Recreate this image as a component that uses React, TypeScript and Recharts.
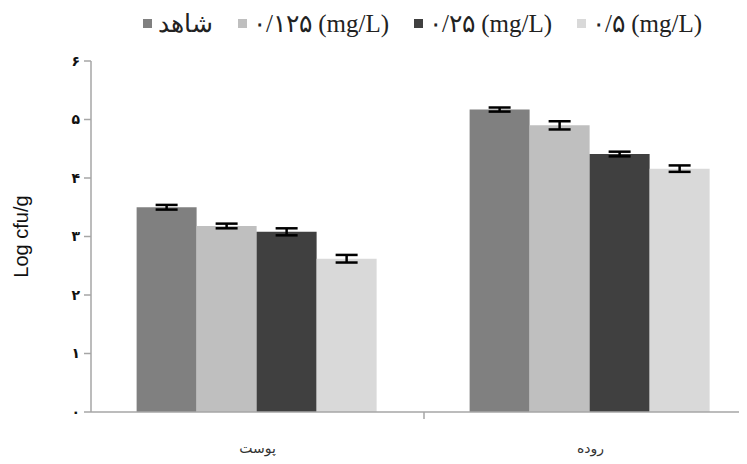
import React from "react";
import { BarChart, Bar, XAxis, YAxis, Legend, ErrorBar } from "recharts";

const categories = ["پوست", "روده"];
const seriesNames = ["شاهد", "۰/۱۲۵ (mg/L)", "۰/۲۵ (mg/L)", "۰/۵ (mg/L)"];
const seriesColors = ["#808080", "#bfbfbf", "#404040", "#d9d9d9"];

const control = [3.5, 5.17];
const dose125 = [3.18, 4.9];
const dose25 = [3.08, 4.41];
const dose5 = [2.62, 4.16];

const controlErr = [0.04, 0.035];
const dose125Err = [0.04, 0.07];
const dose25Err = [0.06, 0.04];
const dose5Err = [0.065, 0.055];

const yTicks = [0, 1, 2, 3, 4, 5, 6];
const persianDigits = ["۰", "۱", "۲", "۳", "۴", "۵", "۶", "۷", "۸", "۹"];

const values = [control, dose125, dose25, dose5];
const errors = [controlErr, dose125Err, dose25Err, dose5Err];
const keys = ["s0", "s1", "s2", "s3"];

const data = categories.map((name, i) => {
  const row: any = { name, pos: i + 0.5 };
  keys.forEach((k, j) => {
    row[k] = values[j][i];
    row[k + "Err"] = errors[j][i];
  });
  return row;
});

const toPersian = (v: number) =>
  String(v)
    .split("")
    .map((c) => (c >= "0" && c <= "9" ? persianDigits[Number(c)] : c))
    .join("");

const AXIS = "#a6a6a6";

function BottomTick(props: any) {
  const { x, y, payload } = props;
  const v = payload.value;
  if (v === Math.floor(v)) {
    // boundary tick between categories
    return <line x1={x} x2={x} y1={y} y2={y + 7} stroke={AXIS} strokeWidth={1.5} />;
  }
  return (
    <text
      x={x}
      y={y}
      dy={41}
      textAnchor="middle"
      fontSize={14}
      fontFamily="'DejaVu Sans', sans-serif"
      fill="#333"
    >
      {categories[Math.floor(v)]}
    </text>
  );
}

function LegendContent() {
  return (
    <div
      style={{
        display: "flex",
        alignItems: "center",
        height: 30,
        paddingLeft: 135,
        gap: 25,
        fontFamily: "'Liberation Serif', 'DejaVu Serif', serif",
        fontSize: 25,
        color: "#222",
        whiteSpace: "nowrap",
      }}
    >
      {seriesNames.map((n, i) => (
        <div key={n} style={{ display: "flex", alignItems: "center" }}>
          <span
            style={{
              width: 9,
              height: 9,
              background: seriesColors[i],
              marginRight: 6,
              display: "inline-block",
            }}
          />
          <span>{n}</span>
        </div>
      ))}
    </div>
  );
}

export default function App() {
  return (
    <div style={{ width: 739, height: 456, overflow: "hidden" }}>
      <BarChart
        width={749}
        height={454}
        data={data}
        margin={{ top: 23, right: 0, left: 5, bottom: 0 }}
        barCategoryGap="13.7%"
        barGap={0}
      >
        <Legend
          verticalAlign="top"
          align="left"
          content={LegendContent}
          wrapperStyle={{ top: 0, left: 0, width: 739, height: 30 }}
        />
        <XAxis dataKey="name" xAxisId={0} hide height={0} />
        <XAxis
          xAxisId="n"
          type="number"
          dataKey="pos"
          domain={[0, 2]}
          ticks={[0.5, 1, 1.5]}
          height={50}
          tickLine={false}
          tickSize={0}
          tickMargin={0}
          axisLine={{ stroke: AXIS, strokeWidth: 1.5 }}
          tick={BottomTick}
          interval={0}
        />
        <YAxis
          width={78}
          domain={[0, 6]}
          ticks={yTicks}
          interval={0}
          tickSize={7}
          tickMargin={4}
          tickFormatter={toPersian}
          axisLine={{ stroke: AXIS, strokeWidth: 1.5 }}
          tickLine={{ stroke: AXIS, strokeWidth: 1.5 }}
          tick={{ fill: "#111", fontSize: 14, fontWeight: "bold", fontFamily: "'DejaVu Sans', sans-serif" }}
          label={{
            value: "Log cfu/g",
            angle: -90,
            position: "insideLeft",
            offset: 8,
            fill: "#111",
            fontSize: 20,
            fontFamily: "'Liberation Sans', Arial, sans-serif",
            style: { textAnchor: "middle" },
          }}
        />
        {keys.map((k, i) => (
          <Bar
            key={k}
            dataKey={k}
            name={seriesNames[i]}
            fill={seriesColors[i]}
            xAxisId={0}
            isAnimationActive={false}
          >
            <ErrorBar
              dataKey={k + "Err"}
              width={11}
              stroke="#000"
              strokeWidth={2.5}
              direction="y"
            />
          </Bar>
        ))}
      </BarChart>
    </div>
  );
}
